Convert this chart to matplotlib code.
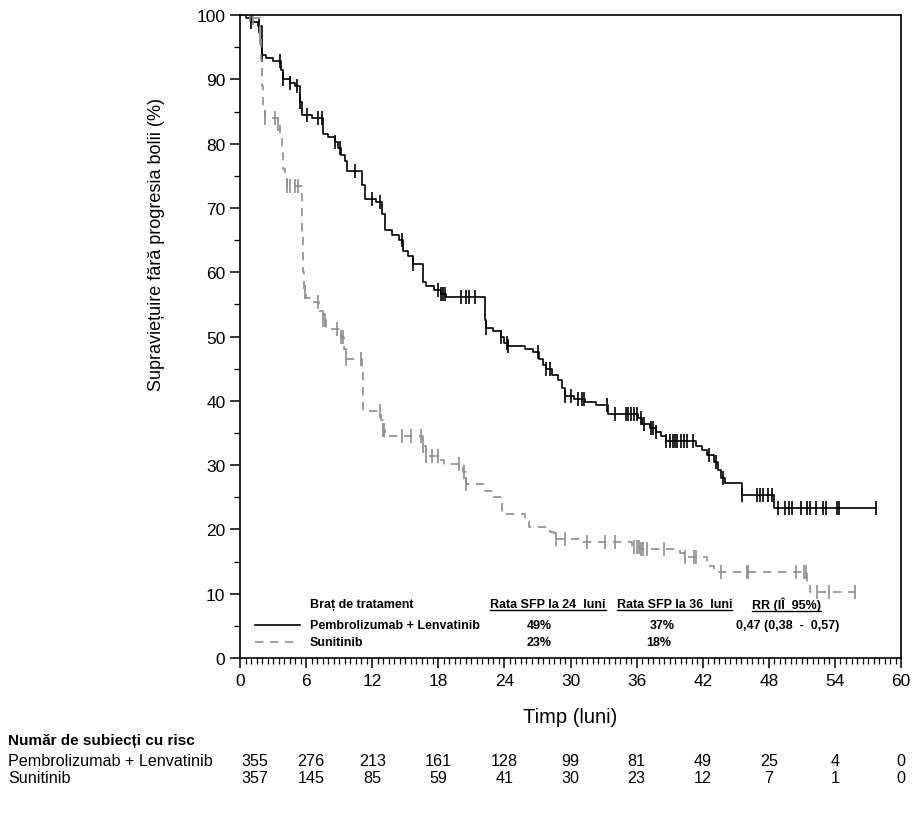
import numpy as np
import matplotlib
matplotlib.use("Agg")
import matplotlib.pyplot as plt
from matplotlib.ticker import MultipleLocator
from matplotlib.lines import Line2D

plt.rcParams['font.family'] = ['Liberation Sans', 'DejaVu Sans']
NARROW = ['Liberation Sans Narrow', 'Liberation Sans', 'DejaVu Sans']

# step times (months) and survival (%) after each step
pembro_t = [0, 0.5, 1.0, 1.6, 2.0, 2.4, 3.0, 3.7, 3.9, 4.5, 5.0, 5.4, 5.6, 6.5,
            7.5, 8.0, 8.6, 8.9, 9.2, 9.5, 9.7, 11.1, 11.3, 12.3, 12.9, 13.2,
            13.8, 14.4, 14.8, 15.2, 15.7, 16.6, 16.9, 17.6, 18.2, 18.7, 22.2,
            22.3, 23.0, 23.7, 24.0, 24.3, 25.9, 26.6, 27.1, 27.5, 27.8, 28.3,
            28.9, 29.2, 29.5, 30.3, 31.3, 32.3, 33.4, 36.1, 36.5, 37.2, 37.8,
            38.2, 38.7, 41.4, 41.9, 42.4, 43.0, 43.4, 43.7, 44.0, 45.6, 48.5, 57.7]
pembro_s = [100, 99.5, 99.0, 98.3, 93.8, 93.3, 92.8, 91.5, 90.0, 89.5, 89.0, 86.5,
            84.5, 84.0, 81.5, 81.0, 80.3, 79.3, 78.3, 77.3, 75.8, 73.5, 71.4,
            71.0, 69.0, 66.5, 65.8, 65.0, 63.3, 62.5, 61.3, 58.5, 57.9, 57.2,
            56.6, 56.1, 52.5, 51.3, 50.8, 50.0, 49.0, 48.5, 48.0, 47.6, 46.5,
            45.5, 45.0, 44.0, 43.2, 42.0, 40.8, 40.3, 39.8, 39.3, 37.9, 37.3,
            36.4, 35.8, 35.2, 34.6, 33.8, 33.0, 32.3, 31.6, 30.5, 29.3, 28.0,
            27.3, 25.3, 23.3, 23.3]
pembro_cens = [1.0, 1.7, 2.0, 3.6, 3.9, 4.5, 5.2, 5.4, 6.1, 7.1, 7.4, 8.6, 9.1,
               10.4, 12.0, 12.7, 14.7, 15.7, 18.0, 18.2, 18.4, 18.6, 20.1, 20.5,
               20.8, 21.3, 22.3, 23.7, 24.2, 24.3, 27.0, 27.8, 28.1, 29.5, 30.0,
               30.7, 31.0, 31.2, 33.3, 34.0, 35.0, 35.2, 35.5, 35.8, 36.0, 36.4,
               36.7, 37.3, 37.5, 37.8, 38.7, 39.0, 39.3, 39.5, 39.7, 40.0, 40.3,
               40.6, 41.1, 42.6, 43.2, 43.8, 45.6, 46.9, 47.2, 47.5, 47.9, 48.3,
               48.8, 49.5, 49.8, 50.1, 50.9, 51.5, 51.7, 52.3, 52.9, 53.2, 54.2,
               54.4, 57.7]

sunit_t = [0, 1.2, 1.8, 1.9, 2.0, 2.1, 2.3, 3.4, 3.6, 3.8, 3.9, 4.1, 4.3, 5.6,
           5.65, 5.7, 5.8, 6.0, 6.5, 7.2, 7.5, 7.8, 9.2, 9.4, 9.6, 11.1, 11.15,
           11.2, 12.8, 13.0, 13.2, 16.6, 16.9, 18.2, 18.5, 20.2, 20.5, 22.2,
           23.0, 23.8, 25.9, 26.2, 28.1, 28.5, 31.0, 35.6, 36.3, 39.9, 40.3,
           42.4, 42.7, 43.0, 51.5, 51.7, 55.9]
sunit_s = [100, 99.5, 96.5, 93.0, 89.0, 85.5, 84.0, 83.0, 81.0, 78.5, 76.0, 74.5,
           73.4, 72.5, 66.0, 60.0, 57.0, 56.0, 55.3, 54.0, 52.5, 51.2, 50.0,
           48.0, 46.5, 45.0, 42.0, 38.4, 37.0, 35.5, 34.5, 33.0, 31.4, 30.8,
           30.2, 29.0, 27.0, 26.0, 25.0, 22.4, 21.3, 20.4, 19.6, 18.5, 18.0,
           17.3, 17.0, 16.3, 15.7, 15.0, 14.3, 13.4, 11.5, 10.3, 10.3]
sunit_cens = [0.9, 1.2, 1.8, 2.3, 3.2, 3.4, 4.3, 4.5, 5.0, 5.3, 5.9, 7.1, 7.5,
              7.7, 8.8, 9.2, 9.3, 9.6, 11.0, 12.7, 13.0, 13.1, 14.7, 15.5, 16.4,
              16.6, 16.9, 17.4, 18.0, 19.9, 20.3, 20.5, 28.7, 29.5, 31.5, 33.1,
              34.0, 35.8, 36.0, 36.2, 36.4, 36.6, 36.9, 38.5, 40.4, 41.2, 41.4,
              43.7, 46.0, 46.1, 50.5, 51.2, 51.4, 52.4, 53.5, 55.8]

arms = ['Pembrolizumab + Lenvatinib', 'Sunitinib']
rate24 = ['49%', '23%']
rate36 = ['37%', '18%']
hr_text = '0,47 (0,38  -  0,57)'
risk_times = [0, 6, 12, 18, 24, 30, 36, 42, 48, 54, 60]
risk_pembro = [355, 276, 213, 161, 128, 99, 81, 49, 25, 4, 0]
risk_sunit = [357, 145, 85, 59, 41, 30, 23, 12, 7, 1, 0]

BLACK = '#000000'
GRAY = '#8e8e8e'


def km_at(times, surv, t):
    i = np.searchsorted(times, t, side='right') - 1
    return np.asarray(surv)[i]


fig = plt.figure(figsize=(9.19, 8.2), dpi=100)
ax = fig.add_axes([0.2612, 0.1963, 0.7193, 0.7841])

ax.step(pembro_t, pembro_s, where='post', color=BLACK, lw=1.2)
ax.plot(pembro_cens, km_at(pembro_t, pembro_s, pembro_cens), ls='none',
        marker='|', ms=10, mew=1.2, color=BLACK)
ax.step(sunit_t, sunit_s, where='post', color=GRAY, lw=1.2, ls=(0, (5, 4)))
ax.plot(sunit_cens, km_at(sunit_t, sunit_s, sunit_cens), ls='none',
        marker='|', ms=10, mew=1.2, color=GRAY)

ax.set_xlim(0, 60)
ax.set_ylim(0, 100)
ax.xaxis.set_major_locator(MultipleLocator(6))
ax.xaxis.set_minor_locator(MultipleLocator(0.5))
ax.yaxis.set_major_locator(MultipleLocator(10))
ax.yaxis.set_minor_locator(MultipleLocator(5))
ax.tick_params(which='major', length=7, width=1.1, labelsize=12.5, direction='out')
ax.tick_params(which='minor', length=4, width=0.9, direction='out')
for s in ax.spines.values():
    s.set_linewidth(1.2)

ax.set_xlabel('Timp (luni)', fontsize=14.5, labelpad=14)
ax.set_ylabel('Supraviețuire fără progresia bolii (%)', fontsize=13)
ax.yaxis.set_label_coords(-0.113, 0.644)

# in-plot legend / summary table
tx = ax.transAxes
ax.add_line(Line2D([0.022, 0.09], [0.051, 0.051], transform=tx, color=BLACK, lw=1.2))
ax.add_line(Line2D([0.022, 0.09], [0.025, 0.025], transform=tx, color=GRAY, lw=1.2,
                   ls=(0, (5, 4))))
kw = dict(transform=tx, fontsize=9, fontweight='bold', family=NARROW, va='center')
ax.text(0.106, 0.084, 'Braț de tratament', **kw)
ax.text(0.106, 0.051, arms[0], **kw)
ax.text(0.106, 0.025, arms[1], **kw)
headers = [ax.text(0.466, 0.084, 'Rata SFP la 24  luni', ha='center', **kw),
           ax.text(0.657, 0.084, 'Rata SFP la 36  luni', ha='center', **kw),
           ax.text(0.826, 0.084, 'RR (IÎ  95%)', ha='center', **kw)]
ax.text(0.452, 0.051, rate24[0], ha='center', **kw)
ax.text(0.452, 0.025, rate24[1], ha='center', **kw)
ax.text(0.638, 0.051, rate36[0], ha='center', **kw)
ax.text(0.634, 0.025, rate36[1], ha='center', **kw)
ax.text(0.829, 0.051, hr_text, ha='center', **kw)

# number at risk
fig.text(8 / 919, 1 - 741 / 820, 'Număr de subiecți cu risc', fontsize=11,
         fontweight='bold', va='center', family=NARROW)
for row, (name, vals) in enumerate([(arms[0], risk_pembro), (arms[1], risk_sunit)]):
    yy = 1 - (762 + 17 * row) / 820
    fig.text(8 / 919, yy, name, fontsize=11.6, va='center', family=NARROW)
    for k, (t, v) in enumerate(zip(risk_times, vals)):
        xf = fig.transFigure.inverted().transform(ax.transData.transform((t, 0)))[0]
        shift = 0.016 if k == 0 else (0.005 if k == 1 else 0.0)
        fig.text(xf + shift, yy, str(v), fontsize=11.6, va='center', ha='center',
                 family=NARROW)

# underline the table headers
fig.canvas.draw()
r = fig.canvas.get_renderer()
inv = fig.transFigure.inverted()
for h in headers:
    bb = h.get_window_extent(r)
    (x0, y0), (x1, _) = inv.transform([(bb.x0, bb.y0), (bb.x1, bb.y1)])
    fig.add_artist(Line2D([x0, x1], [y0, y0], transform=fig.transFigure,
                          color=BLACK, lw=1.0))

fig.savefig('out.png', dpi=100)
